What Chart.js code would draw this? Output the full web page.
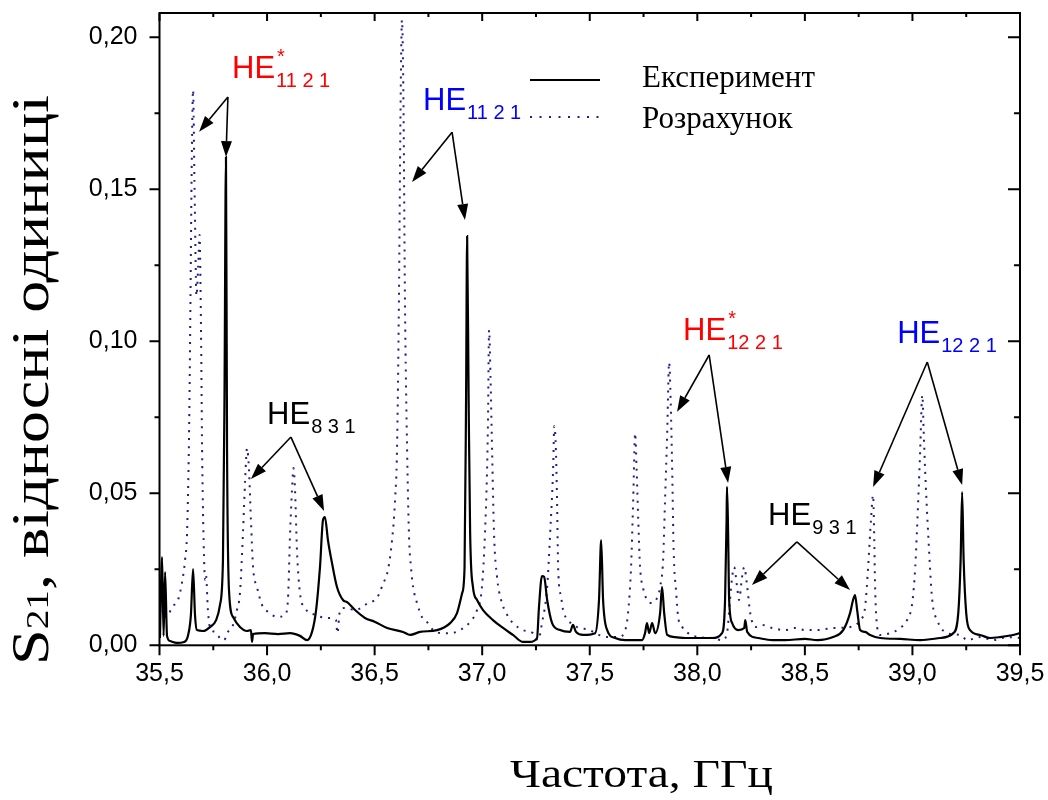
<!DOCTYPE html>
<html>
<head>
<meta charset="utf-8">
<script src="https://cdn.jsdelivr.net/npm/chart.js@4"></script>
<style>
  html, body { margin: 0; padding: 0; background: #fff; }
  #wrap { width: 1048px; height: 800px; position: relative; }
</style>
</head>
<body>
<div id="wrap"><canvas id="myChart"></canvas></div>
<script>
// measured S21 spectrum (solid line)
const expFreq = [
  35.502, 35.512, 35.519, 35.526, 35.535, 35.549, 35.581, 35.614, 35.632, 35.646,
  35.656, 35.665, 35.674, 35.702, 35.735, 35.763, 35.781, 35.795, 35.802, 35.809,
  35.814, 35.823, 35.842, 35.874, 35.907, 35.925, 35.930, 35.935, 35.990, 36.051,
  36.107, 36.153, 36.186, 36.209, 36.228, 36.246, 36.260, 36.269, 36.283, 36.302,
  36.325, 36.353, 36.372, 36.409, 36.455, 36.502, 36.558, 36.632, 36.665, 36.711,
  36.790, 36.851, 36.883, 36.907, 36.918, 36.925, 36.930, 36.937, 36.944, 36.957,
  36.976, 37.004, 37.050, 37.097, 37.143, 37.190, 37.222, 37.255, 37.264, 37.278,
  37.288, 37.302, 37.325, 37.362, 37.408, 37.422, 37.436, 37.469, 37.525, 37.543,
  37.553, 37.562, 37.581, 37.618, 37.665, 37.743, 37.757, 37.766, 37.776, 37.790,
  37.804, 37.827, 37.836, 37.846, 37.860, 37.897, 37.943, 38.003, 38.068, 38.115,
  38.129, 38.136, 38.138, 38.143, 38.148, 38.162, 38.190, 38.218, 38.223, 38.232,
  38.283, 38.348, 38.408, 38.501, 38.557, 38.631, 38.678, 38.710, 38.724, 38.733,
  38.743, 38.757, 38.780, 38.803, 38.850, 38.943, 39.036, 39.129, 39.190, 39.213,
  39.224, 39.231, 39.238, 39.250, 39.268, 39.315, 39.361, 39.407, 39.468, 39.500
];
const expAmp = [
  0.0024, 0.0290, 0.0031, 0.0241, 0.0031, 0.0014, 0.0008, 0.0011, 0.0031, 0.0100,
  0.0251, 0.0100, 0.0050, 0.0047, 0.0060, 0.0083, 0.0132, 0.0281, 0.0807, 0.1606,
  0.0642, 0.0182, 0.0093, 0.0060, 0.0047, 0.0050, 0.0011, 0.0037, 0.0040, 0.0037,
  0.0040, 0.0031, 0.0017, 0.0044, 0.0116, 0.0257, 0.0412, 0.0422, 0.0346, 0.0270,
  0.0192, 0.0149, 0.0142, 0.0116, 0.0090, 0.0077, 0.0057, 0.0044, 0.0034, 0.0044,
  0.0050, 0.0073, 0.0106, 0.0172, 0.0257, 0.0807, 0.1346, 0.0807, 0.0369, 0.0192,
  0.0149, 0.0116, 0.0083, 0.0057, 0.0034, 0.0011, 0.0011, 0.0024, 0.0126, 0.0228,
  0.0225, 0.0149, 0.0073, 0.0050, 0.0044, 0.0067, 0.0044, 0.0034, 0.0040, 0.0149,
  0.0346, 0.0149, 0.0050, 0.0024, 0.0017, 0.0017, 0.0040, 0.0073, 0.0040, 0.0073,
  0.0040, 0.0106, 0.0192, 0.0106, 0.0034, 0.0027, 0.0024, 0.0024, 0.0024, 0.0040,
  0.0149, 0.0412, 0.0521, 0.0379, 0.0149, 0.0073, 0.0050, 0.0057, 0.0083, 0.0044,
  0.0024, 0.0017, 0.0017, 0.0021, 0.0017, 0.0027, 0.0050, 0.0106, 0.0149, 0.0165,
  0.0116, 0.0050, 0.0044, 0.0034, 0.0024, 0.0021, 0.0017, 0.0024, 0.0040, 0.0106,
  0.0281, 0.0504, 0.0281, 0.0106, 0.0050, 0.0034, 0.0024, 0.0027, 0.0034, 0.0040
];

// calculated spectrum (dotted line)
const calcFreq = [
  35.502, 35.516, 35.535, 35.558, 35.586, 35.605, 35.619, 35.628, 35.637, 35.644,
  35.649, 35.656, 35.663, 35.672, 35.680, 35.686, 35.693, 35.698, 35.705, 35.712,
  35.716, 35.725, 35.735, 35.758, 35.781, 35.800, 35.818, 35.842, 35.860, 35.874,
  35.888, 35.898, 35.907, 35.916, 35.925, 35.935, 35.953, 35.977, 36.004, 36.051,
  36.083, 36.097, 36.107, 36.116, 36.123, 36.130, 36.139, 36.153, 36.176, 36.223,
  36.283, 36.320, 36.327, 36.339, 36.362, 36.409, 36.469, 36.511, 36.539, 36.562,
  36.581, 36.595, 36.604, 36.613, 36.620, 36.627, 36.634, 36.641, 36.651, 36.660,
  36.669, 36.679, 36.697, 36.720, 36.748, 36.772, 36.818, 36.851, 36.897, 36.944,
  36.976, 36.999, 37.013, 37.023, 37.027, 37.032, 37.039, 37.046, 37.055, 37.069,
  37.088, 37.116, 37.143, 37.190, 37.236, 37.260, 37.278, 37.302, 37.316, 37.330,
  37.335, 37.341, 37.348, 37.353, 37.367, 37.376, 37.399, 37.441, 37.501, 37.525,
  37.585, 37.632, 37.665, 37.678, 37.692, 37.702, 37.711, 37.718, 37.725, 37.734,
  37.748, 37.767, 37.790, 37.813, 37.827, 37.841, 37.850, 37.860, 37.869, 37.876,
  37.883, 37.890, 37.902, 37.911, 37.930, 37.957, 38.003, 38.068, 38.115, 38.138,
  38.152, 38.162, 38.171, 38.185, 38.194, 38.208, 38.218, 38.232, 38.246, 38.269,
  38.301, 38.348, 38.408, 38.455, 38.501, 38.557, 38.631, 38.710, 38.757, 38.780,
  38.794, 38.808, 38.817, 38.822, 38.826, 38.836, 38.850, 38.896, 38.943, 38.975,
  38.999, 39.013, 39.027, 39.036, 39.046, 39.052, 39.059, 39.073, 39.092, 39.115,
  39.161, 39.222, 39.255, 39.315, 39.375, 39.440, 39.500
];
const calcAmp = [
  0.0116, 0.0100, 0.0093, 0.0126, 0.0149, 0.0208, 0.0281, 0.0369, 0.0675, 0.1136,
  0.1531, 0.1827, 0.1500, 0.1150, 0.1250, 0.1350, 0.1037, 0.0642, 0.0346, 0.0215,
  0.0231, 0.0116, 0.0057, 0.0044, 0.0024, 0.0017, 0.0044, 0.0067, 0.0116, 0.0172,
  0.0369, 0.0543, 0.0648, 0.0577, 0.0412, 0.0257, 0.0192, 0.0132, 0.0110, 0.0093,
  0.0100, 0.0149, 0.0369, 0.0511, 0.0583, 0.0511, 0.0313, 0.0172, 0.0123, 0.0100,
  0.0090, 0.0083, 0.0040, 0.0115, 0.0123, 0.0116, 0.0139, 0.0156, 0.0202, 0.0248,
  0.0346, 0.0478, 0.0642, 0.1136, 0.1728, 0.2057, 0.1794, 0.1136, 0.0642, 0.0356,
  0.0257, 0.0192, 0.0139, 0.0093, 0.0073, 0.0050, 0.0040, 0.0040, 0.0050, 0.0077,
  0.0116, 0.0192, 0.0369, 0.0586, 0.0741, 0.1037, 0.0872, 0.0642, 0.0369, 0.0225,
  0.0149, 0.0100, 0.0073, 0.0050, 0.0040, 0.0017, 0.0073, 0.0192, 0.0369, 0.0586,
  0.0721, 0.0675, 0.0478, 0.0257, 0.0159, 0.0116, 0.0083, 0.0060, 0.0050, 0.0040,
  0.0027, 0.0027, 0.0050, 0.0106, 0.0257, 0.0478, 0.0698, 0.0576, 0.0421, 0.0257,
  0.0188, 0.0149, 0.0139, 0.0156, 0.0192, 0.0281, 0.0478, 0.0698, 0.0931, 0.0807,
  0.0586, 0.0313, 0.0172, 0.0093, 0.0060, 0.0040, 0.0027, 0.0024, 0.0017, 0.0040,
  0.0149, 0.0225, 0.0257, 0.0192, 0.0149, 0.0225, 0.0257, 0.0192, 0.0106, 0.0060,
  0.0067, 0.0057, 0.0050, 0.0057, 0.0050, 0.0050, 0.0057, 0.0060, 0.0083, 0.0126,
  0.0257, 0.0421, 0.0494, 0.0369, 0.0205, 0.0060, 0.0034, 0.0040, 0.0057, 0.0083,
  0.0139, 0.0257, 0.0478, 0.0642, 0.0823, 0.0708, 0.0576, 0.0369, 0.0149, 0.0083,
  0.0040, 0.0034, 0.0017, 0.0027, 0.0017, 0.0027, 0.0024
];

const seriesNames = ["Експеримент", "Розрахунок"];
const xTitle = "Частота, ГГц";
const yTitle = ["S", "21", ", відносні одиниці"];

// mode labels: text anchor, arrow apex and arrow tips, all in data units
const modeLabels = [
  { sub: "11 2 1", star: true,  color: "#ff0000", at: [35.837, 0.1866], apex: [35.818, 0.1804], tips: [[35.684, 0.1689], [35.809, 0.1606]] },
  { sub: "11 2 1", star: false, color: "#0000ff", at: [36.725, 0.1761], apex: [36.860, 0.1688], tips: [[36.674, 0.1524], [36.920, 0.1399]] },
  { sub: "8 3 1",  star: false, color: "#000000", at: [36.000, 0.0728], apex: [36.111, 0.0685], tips: [[35.925, 0.0547], [36.265, 0.0442]] },
  { sub: "12 2 1", star: true,  color: "#ff0000", at: [37.934, 0.1004], apex: [38.055, 0.0955], tips: [[37.906, 0.0768], [38.143, 0.0534]] },
  { sub: "9 3 1",  star: false, color: "#000000", at: [38.329, 0.0396], apex: [38.463, 0.0340], tips: [[38.254, 0.0198], [38.710, 0.0182]] },
  { sub: "12 2 1", star: false, color: "#0000ff", at: [38.929, 0.0994], apex: [39.069, 0.0932], tips: [[38.817, 0.0521], [39.231, 0.0527]] }
];

const SANS = '"Liberation Sans", Arial, sans-serif';
const SERIF = '"Liberation Serif", "Times New Roman", serif';
const DOTS = "#1e1e8c";

Chart.defaults.font.family = SANS;
Chart.defaults.color = "#000";

const fmt = (v, d) => v.toFixed(d).replace(".", ",");
const toPoints = (xs, ys) => xs.map((x, i) => ({ x: x, y: ys[i] }));

function arrow(ctx, x0, y0, x1, y1) {
  const ang = Math.atan2(y1 - y0, x1 - x0);
  const len = 16, half = 5.5;
  const bx = x1 - len * Math.cos(ang), by = y1 - len * Math.sin(ang);
  ctx.beginPath();
  ctx.moveTo(x0, y0);
  ctx.lineTo(bx, by);
  ctx.stroke();
  ctx.beginPath();
  ctx.moveTo(x1, y1);
  ctx.lineTo(bx + half * Math.sin(ang), by - half * Math.cos(ang));
  ctx.lineTo(bx - half * Math.sin(ang), by + half * Math.cos(ang));
  ctx.closePath();
  ctx.fill();
}

const decor = {
  id: "decor",
  afterDraw(chart) {
    const { ctx, chartArea: a } = chart;
    const sx = chart.scales.x, sy = chart.scales.y;
    ctx.save();

    // frame and tick marks (outside on bottom/left, inside on top/right)
    ctx.strokeStyle = "#000";
    ctx.lineWidth = 2;
    ctx.strokeRect(a.left, a.top, a.right - a.left, a.bottom - a.top);
    ctx.beginPath();
    for (let i = 0; i <= 16; i++) {
      const px = sx.getPixelForValue(35.5 + i * 0.25);
      const major = i % 2 === 0;
      ctx.moveTo(px, a.bottom); ctx.lineTo(px, a.bottom + (major ? 10 : 5));
      ctx.moveTo(px, a.top); ctx.lineTo(px, a.top + (major ? 8 : 4));
    }
    for (let i = 0; i <= 8; i++) {
      const py = sy.getPixelForValue(i * 0.025);
      const major = i % 2 === 0;
      ctx.moveTo(a.left, py); ctx.lineTo(a.left - (major ? 10 : 5), py);
      ctx.moveTo(a.right, py); ctx.lineTo(a.right - (major ? 12 : 6), py);
    }
    ctx.stroke();

    // axis titles
    ctx.fillStyle = "#000";
    ctx.textBaseline = "alphabetic";
    ctx.textAlign = "left";
    ctx.font = "40px " + SERIF;
    const wx = ctx.measureText(xTitle).width;
    ctx.save();
    ctx.translate(510, 787);
    ctx.scale(263 / wx, 1);
    ctx.fillText(xTitle, 0, 0);
    ctx.restore();

    ctx.save();
    ctx.translate(48, 665);
    ctx.rotate(-Math.PI / 2);
    ctx.font = "52px " + SERIF;
    const w0 = ctx.measureText(yTitle[0]).width;
    const w2 = ctx.measureText(yTitle[2]).width;
    ctx.font = "32px " + SERIF;
    const w1 = ctx.measureText(yTitle[1]).width;
    ctx.scale(570 / (w0 + w1 + w2), 1);
    ctx.font = "52px " + SERIF;
    ctx.fillText(yTitle[0], 0, 0);
    ctx.fillText(yTitle[2], w0 + w1, 0);
    ctx.font = "32px " + SERIF;
    ctx.fillText(yTitle[1], w0, 0);
    ctx.restore();

    // legend
    ctx.lineWidth = 2;
    ctx.beginPath(); ctx.moveTo(530, 80); ctx.lineTo(600, 80); ctx.stroke();
    ctx.strokeStyle = DOTS;
    ctx.setLineDash([2, 7.5]);
    ctx.beginPath(); ctx.moveTo(530, 117); ctx.lineTo(600, 117); ctx.stroke();
    ctx.setLineDash([]);
    ctx.font = "31px " + SERIF;
    ctx.fillText(seriesNames[0], 642, 87);
    ctx.fillText(seriesNames[1], 642, 128);

    // mode labels with arrows
    ctx.strokeStyle = "#000";
    ctx.fillStyle = "#000";
    ctx.lineWidth = 1.6;
    modeLabels.forEach(m => {
      const ax = sx.getPixelForValue(m.apex[0]), ay = sy.getPixelForValue(m.apex[1]);
      m.tips.forEach(t => arrow(ctx, ax, ay, sx.getPixelForValue(t[0]), sy.getPixelForValue(t[1])));
    });
    modeLabels.forEach(m => {
      const x = sx.getPixelForValue(m.at[0]), y = sy.getPixelForValue(m.at[1]);
      ctx.fillStyle = m.color;
      ctx.font = "31px " + SANS;
      ctx.fillText("HE", x, y);
      const w = ctx.measureText("HE").width;
      ctx.font = "20px " + SANS;
      ctx.fillText(m.sub, x + w + 1, y + 9);
      if (m.star) ctx.fillText("*", x + w + 2, y - 15);
    });

    ctx.restore();
  }
};

new Chart(document.getElementById("myChart"), {
  type: "line",
  data: {
    datasets: [
      {
        label: seriesNames[0],
        data: toPoints(expFreq, expAmp),
        borderColor: "#000",
        borderWidth: 2.2,
        pointRadius: 0,
        cubicInterpolationMode: "monotone",
        order: 0
      },
      {
        label: seriesNames[1],
        data: toPoints(calcFreq, calcAmp),
        borderColor: DOTS,
        borderWidth: 2,
        borderDash: [2, 6],
        pointRadius: 0,
        cubicInterpolationMode: "monotone",
        order: 1
      }
    ]
  },
  options: {
    responsive: true,
    maintainAspectRatio: false,
    animation: false,
    layout: { padding: { left: 0, right: 28, top: 13, bottom: 0 } },
    plugins: { legend: { display: false }, tooltip: { enabled: false } },
    scales: {
      x: {
        type: "linear",
        min: 35.5,
        max: 39.5,
        grid: { display: false, drawTicks: false },
        border: { display: false },
        ticks: {
          stepSize: 0.5,
          autoSkip: false,
          maxRotation: 0,
          padding: 14,
          font: { size: 25 },
          callback: v => fmt(v, 1)
        },
        afterFit: s => {
          s.height = 154.7;
          s.paddingLeft = 0;
          s.paddingRight = 0;
        }
      },
      y: {
        min: 0,
        max: 0.208,
        grid: { display: false, drawTicks: false },
        border: { display: false },
        ticks: {
          stepSize: 0.05,
          includeBounds: false,
          padding: 22,
          font: { size: 25 },
          callback: v => fmt(v, 2)
        },
        afterFit: s => {
          s.width = 159.5;
          s.paddingTop = 0;
          s.paddingBottom = 0;
        }
      }
    }
  },
  plugins: [decor]
});
</script>
</body>
</html>
